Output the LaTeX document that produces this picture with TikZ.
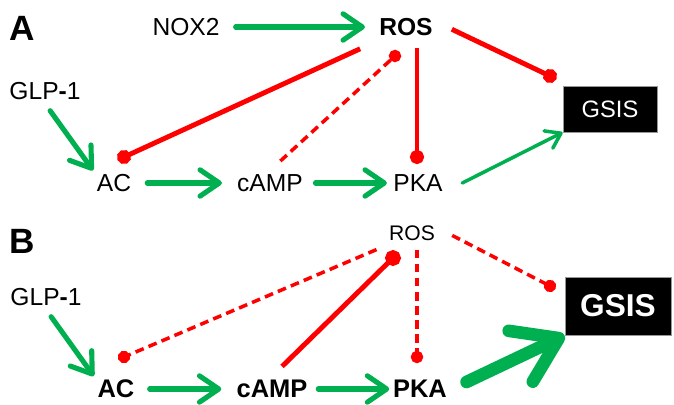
\documentclass[tikz,border=0pt]{standalone}
\usepackage{fontspec}
\setmainfont{Liberation Sans}
\usepackage{xcolor}
\usetikzlibrary{arrows.meta, positioning, calc}
\definecolor{cgreen}{RGB}{0, 176, 80}
\definecolor{cred}{RGB}{255, 0, 0}
\definecolor{cboxline}{RGB}{150, 150, 150}

\begin{document}
\begin{tikzpicture}[
  x=0.02cm, y=-0.02cm,
  txt/.style={font=\fontsize{14}{17}\selectfont, inner sep=2pt},
  btxt/.style={font=\fontsize{14.5}{17}\selectfont\bfseries, inner sep=2pt},
  panel/.style={font=\fontsize{20}{24}\selectfont\bfseries},
  gsis/.style={rectangle, fill=black, draw=cboxline, line width=0.5pt, text=white},
  act/.style={-{Straight Barb[length=11pt, width=15pt, round]}, cgreen, line width=2.9pt, line cap=round},
  actthin/.style={-{Straight Barb[length=8pt, width=11pt, round]}, cgreen, line width=2pt, line cap=round},
  actthick/.style={-{Straight Barb[length=24pt, width=32pt, round]}, cgreen, line width=7.2pt, line cap=round},
  inh/.style={-{Circle[length=8pt]}, cred, line width=2.8pt, shorten >=-4pt},
  inhbig/.style={-{Circle[length=9pt]}, cred, line width=2.8pt, shorten >=-4.5pt},
  inhdash/.style={-{Circle[length=7pt]}, cred, line width=2pt, dash pattern=on 5pt off 3pt, shorten >=-3.5pt},
]
\useasboundingbox (0,0) rectangle (674,405);

% ---- Panel A ----
\node[panel] (labA) at (22,28) {A};
\node[txt] (nox2) at (186,27) {NOX2};
\node[btxt, font=\fontsize{14}{17}\selectfont\bfseries, inner xsep=8pt, inner ysep=7pt] (rosA) at (406,27) {ROS};
\node[txt] (glpA) at (45,91) {GLP\textbf{-}1};
\node[txt] (acA) at (114,183) {AC};
\node[txt] (campA) at (270,183) {cAMP};
\node[txt] (pkaA) at (418,183) {PKA};
\node[gsis, font=\fontsize{13.5}{16}\selectfont, minimum width=1.88cm, minimum height=0.92cm] (gsisA) at (610,109) {GSIS};

% inhibition ends
\coordinate (acA-in) at (124,157);
\coordinate (rosA-in) at (395,56);
\coordinate (pkaA-in) at (417,157);
\coordinate (gsisA-in) at (550,76);

\draw[act, shorten <=7pt] (nox2) -- (rosA);
\draw[act, shorten <=5pt] (glpA.south) -- (acA.north west);
\draw[act, shorten <=7pt, shorten >=6.5pt] (acA) -- (campA);
\draw[act, shorten <=5pt, shorten >=1.5pt] (campA) -- (pkaA);
\draw[actthin] ([xshift=9pt]pkaA.east) -- (gsisA.south west);

\draw[inh, shorten <=3pt] ([yshift=1pt]rosA.south west) -- (acA-in);
\draw[inhdash, shorten <=8pt] (campA.north) -- (rosA-in);
\draw[inh] (rosA.south -| pkaA-in) -- (pkaA-in);
\draw[inh, shorten <=3pt] (rosA.east) -- (gsisA-in);

% ---- Panel B ----
\node[panel] (labB) at (22,241) {B};
\node[txt, font=\fontsize{12}{14}\selectfont, inner xsep=7pt, inner ysep=5pt] (rosB) at (412,233) {ROS};
\node[txt] (glpB) at (46,297) {GLP\textbf{-}1};
\node[btxt] (acB) at (116,389) {AC};
\node[btxt] (campB) at (272,389) {cAMP};
\node[btxt] (pkaB) at (420,389) {PKA};
\node[gsis, font=\fontsize{18}{22}\selectfont\bfseries, minimum width=2.12cm, minimum height=1.16cm] (gsisB) at (618,306) {GSIS};

% inhibition ends
\coordinate (acB-in) at (124,357);
\coordinate (rosB-in) at (393,258);
\coordinate (pkaB-in) at (417,357);
\coordinate (gsisB-in) at (550,286);

\draw[act, shorten <=5pt] (glpB.south) -- (acB.north west);
\draw[act, shorten <=6.5pt, shorten >=6.5pt] (acB) -- (campB);
\draw[act, shorten <=4pt] (campB) -- (pkaB);
\draw[actthick] ([xshift=9pt, yshift=4pt]pkaB.east) -- (gsisB.south west);

\draw[inhdash] (rosB.south west) -- (acB-in);
\draw[inhbig, shorten <=8pt] (campB.north) -- (rosB-in);
\draw[inhdash] (rosB.south -| pkaB-in) -- (pkaB-in);
\draw[inhdash, shorten <=3pt] (rosB.east) -- (gsisB-in);

\end{tikzpicture}
\end{document}
